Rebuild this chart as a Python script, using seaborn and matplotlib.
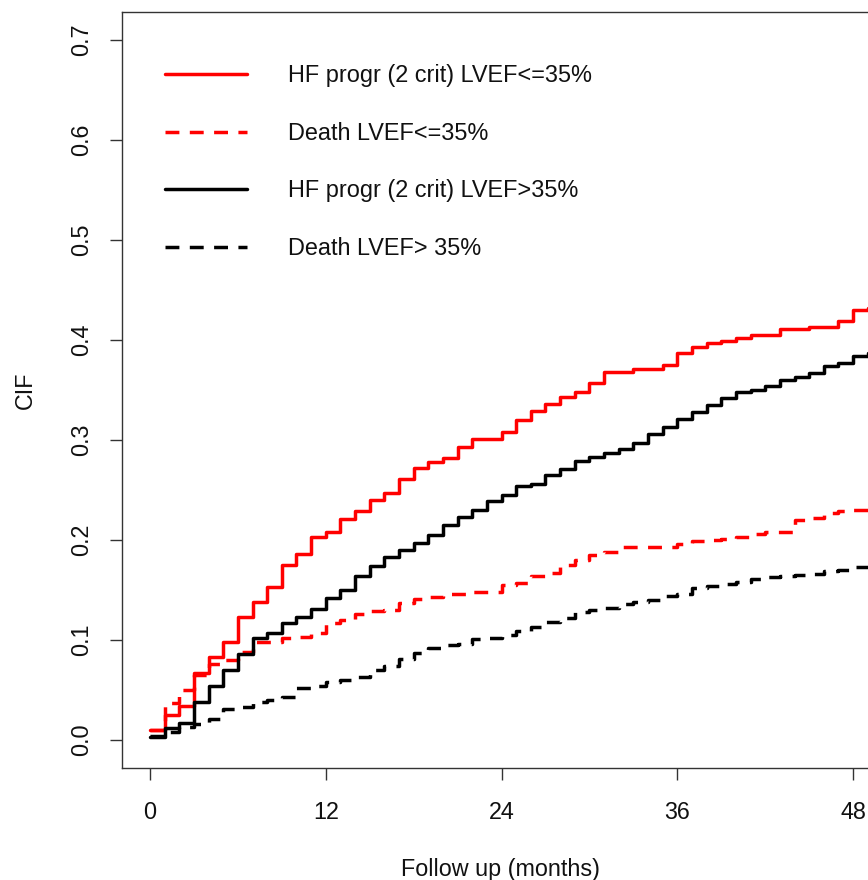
import numpy as np
import pandas as pd
import matplotlib
matplotlib.use("Agg")
import matplotlib.pyplot as plt
import seaborn as sns

# follow-up grid (months); last entry is the end of follow-up
months = list(range(50)) + [49.7]

# cumulative incidence, one value per month
hf_low = [0.010, 0.025, 0.034, 0.067, 0.083, 0.098, 0.123, 0.138, 0.153, 0.175,
          0.186, 0.203, 0.208, 0.221, 0.229, 0.240, 0.247, 0.261, 0.272, 0.278,
          0.282, 0.293, 0.301, 0.301, 0.308, 0.320, 0.329, 0.336, 0.343, 0.348,
          0.357, 0.368, 0.368, 0.371, 0.371, 0.375, 0.387, 0.393, 0.397, 0.399,
          0.402, 0.405, 0.405, 0.411, 0.411, 0.413, 0.413, 0.419, 0.430, 0.432]
death_low = [0.010, 0.037, 0.050, 0.065, 0.076, 0.080, 0.088, 0.098, 0.098, 0.102,
             0.103, 0.107, 0.117, 0.120, 0.126, 0.129, 0.130, 0.137, 0.141, 0.143,
             0.146, 0.146, 0.148, 0.148, 0.155, 0.157, 0.164, 0.167, 0.175, 0.180,
             0.185, 0.188, 0.193, 0.193, 0.193, 0.193, 0.196, 0.199, 0.200, 0.201,
             0.203, 0.206, 0.208, 0.208, 0.220, 0.222, 0.227, 0.229, 0.230, 0.231]
hf_high = [0.003, 0.012, 0.017, 0.038, 0.054, 0.070, 0.086, 0.102, 0.107, 0.117,
           0.123, 0.131, 0.142, 0.150, 0.164, 0.174, 0.183, 0.190, 0.197, 0.205,
           0.215, 0.223, 0.230, 0.239, 0.245, 0.254, 0.256, 0.265, 0.271, 0.279,
           0.283, 0.287, 0.291, 0.297, 0.306, 0.313, 0.321, 0.328, 0.335, 0.342,
           0.348, 0.350, 0.354, 0.360, 0.363, 0.367, 0.374, 0.377, 0.384, 0.387]
death_high = [0.004, 0.008, 0.013, 0.016, 0.021, 0.031, 0.033, 0.038, 0.040, 0.043,
              0.052, 0.054, 0.058, 0.060, 0.063, 0.070, 0.074, 0.081, 0.087, 0.092,
              0.095, 0.096, 0.101, 0.102, 0.105, 0.109, 0.113, 0.118, 0.122, 0.128,
              0.130, 0.132, 0.136, 0.138, 0.140, 0.144, 0.146, 0.152, 0.154, 0.156,
              0.158, 0.161, 0.163, 0.164, 0.165, 0.166, 0.169, 0.170, 0.173, 0.173]

labels = ["HF progr (2 crit) LVEF<=35%", "Death LVEF<=35%",
          "HF progr (2 crit) LVEF>35%", "Death LVEF> 35%"]
x_ticks = [0, 12, 24, 36, 48]
y_ticks = [0.0, 0.1, 0.2, 0.3, 0.4, 0.5, 0.6, 0.7]

sns.set_style("ticks")
plt.rcParams['font.family'] = ['Liberation Sans', 'DejaVu Sans']
plt.rcParams['text.color'] = '#111111'
plt.rcParams['axes.labelcolor'] = '#111111'
plt.rcParams['xtick.labelcolor'] = '#111111'
plt.rcParams['ytick.labelcolor'] = '#111111'

fig = plt.figure(figsize=(8.68, 8.80), dpi=100)
# axes runs past the right edge of the figure, like the cropped original
ax = fig.add_axes([122 / 868, 112 / 880, 756 / 868, 756 / 880])

dash = (0, (4, 3))
styles = [("#ff0000", "-"), ("#ff0000", dash), ("black", "-"), ("black", dash)]
for vals, lab, (col, ls) in zip([hf_low, death_low, hf_high, death_high], labels, styles):
    df = pd.DataFrame({"t": months, "cif": np.append(vals, vals[-1])})
    sns.lineplot(data=df, x="t", y="cif", color=col, linestyle=ls, linewidth=2.5,
                 drawstyle="steps-post", estimator=None, label=lab, ax=ax)

ax.set_xlim(-1.911, 49.7)
ax.set_ylim(-0.028, 0.728)
ax.set_xticks(x_ticks)
ax.set_xticklabels([str(v) for v in x_ticks])
ax.set_yticks(y_ticks)
ax.set_yticklabels([f"{v:.1f}" for v in y_ticks])
ax.tick_params(axis="both", labelsize=16.8, length=8.5, width=1.0,
               color="#333333", pad=15)
ax.tick_params(axis="y", labelrotation=90, pad=12)
for lbl in ax.get_yticklabels():
    lbl.set_va("center")
for sp in ax.spines.values():
    sp.set_visible(True)
    sp.set_color("#333333")
    sp.set_linewidth(1.0)

ax.set_xlabel("Follow up (months)", fontsize=16.8, labelpad=25)
ax.set_ylabel("CIF", fontsize=16.8, labelpad=24)

ax.legend(loc="upper left", bbox_to_anchor=(43 / 756, 1 - 52 / 756), frameon=False,
          fontsize=16.9, handlelength=3.5, handletextpad=1.75, labelspacing=1.48,
          borderaxespad=0, borderpad=0)

fig.savefig("out.png", dpi=100)
